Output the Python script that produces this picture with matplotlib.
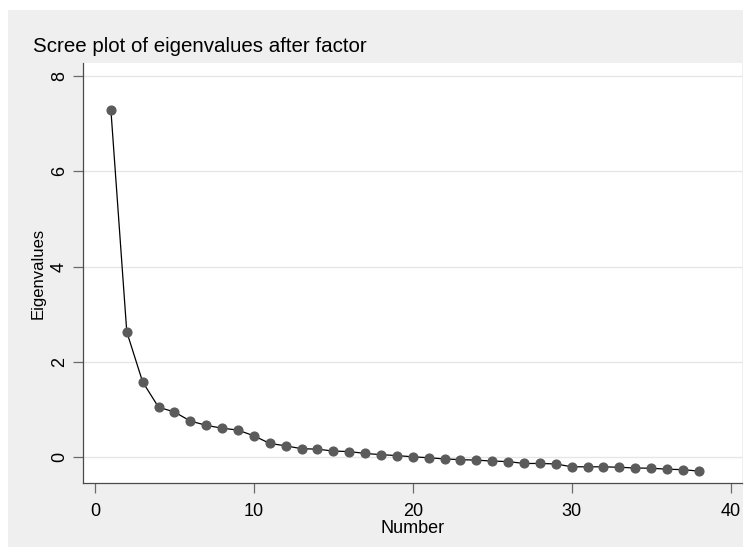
"""
Scree plot of eigenvalues after factor analysis, Stata-like styling.
"""
import numpy as np
from matplotlib import pyplot as plt
from matplotlib.patches import Rectangle

# Eigenvalues, factors 1..38
FACTOR_NUMBER = list(range(1, 39))
EIGENVALUES = [
    7.29, 2.63, 1.58, 1.05, 0.95, 0.76, 0.67, 0.61, 0.57, 0.45,
    0.29, 0.24, 0.18, 0.17, 0.13, 0.12, 0.08, 0.055, 0.035, 0.01,
    -0.01, -0.035, -0.05, -0.06, -0.08, -0.09, -0.13, -0.13, -0.14, -0.20,
    -0.20, -0.20, -0.21, -0.225, -0.23, -0.25, -0.26, -0.29,
]
X_TICKS = [0, 10, 20, 30, 40]
Y_TICKS = [0, 2, 4, 6, 8]

W, H = 749, 555
BG = "#efefef"

plt.rcParams["font.family"] = ["Liberation Sans", "DejaVu Sans"]

fig = plt.figure(figsize=(W / 100, H / 100), dpi=100, facecolor="white")

# Gray graph region inside a thin white border
fig.patches.append(
    Rectangle(
        (8 / W, 1 - 547 / H),
        (743 - 8) / W,
        (547 - 10) / H,
        transform=fig.transFigure,
        facecolor=BG,
        edgecolor="none",
        zorder=-10,
    )
)

ax = fig.add_axes([83.3 / W, 1 - 483.3 / H, (742 - 83.3) / W, (483.3 - 63) / H])
ax.set_facecolor("white")

# Grid
for y in Y_TICKS:
    ax.axhline(y, color="#e6e6e6", lw=1.0, zorder=0)

ax.plot(
    FACTOR_NUMBER,
    EIGENVALUES,
    color="black",
    lw=0.9,
    marker="o",
    markersize=6.3,
    markerfacecolor="#5b5b5b",
    markeredgecolor="#5b5b5b",
    zorder=3,
)

ax.set_xlim(-0.736, 40.72)
ax.set_ylim(-0.546, 8.27)
ax.set_xticks(X_TICKS)
ax.set_yticks(Y_TICKS)

for side in ["top", "right"]:
    ax.spines[side].set_visible(False)
for side in ["left", "bottom"]:
    ax.spines[side].set_color("#4a4a4a")
    ax.spines[side].set_linewidth(0.9)

ax.tick_params(
    axis="both", direction="out", length=7, width=0.9, color="#6a6a6a",
    labelsize=13, labelcolor="black",
)
ax.tick_params(axis="x", pad=7.5)
ax.tick_params(axis="y", pad=4)
for lab in ax.get_yticklabels():
    lab.set_rotation(90)
    lab.set_va("center")

ax.set_xlabel("Number", fontsize=13, labelpad=0)
ax.set_ylabel("Eigenvalues", fontsize=12, labelpad=4)

fig.text(
    33 / W,
    1 - 52 / H,
    "Scree plot of eigenvalues after factor",
    fontsize=14.8,
    ha="left",
    va="baseline",
)

plt.savefig("out.png", dpi=100, facecolor="white")
